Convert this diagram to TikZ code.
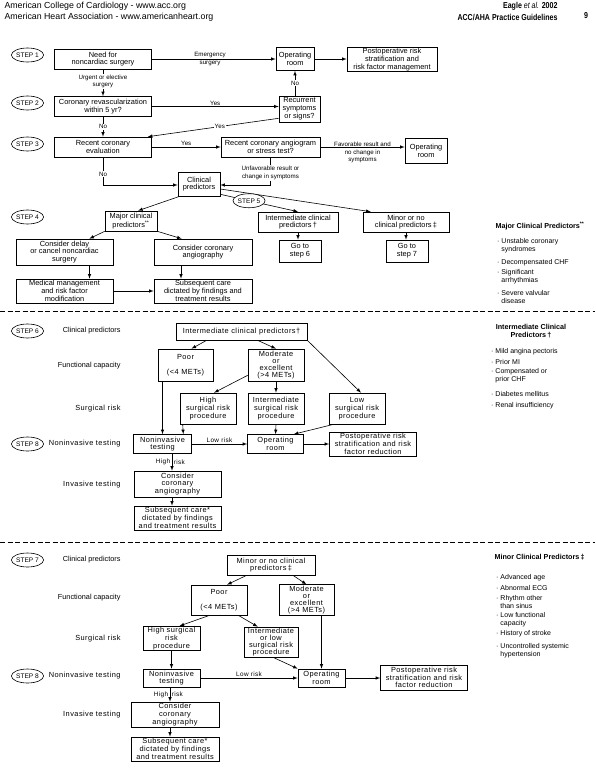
\documentclass[tikz,border=0pt]{standalone}
\usepackage{fontspec}
\setmainfont{Liberation Sans}
\newfontfamily\widefont[LetterSpace=6]{Liberation Sans}
\newfontfamily\narrowfont[FakeStretch=0.82]{Liberation Sans}
\usetikzlibrary{shapes.geometric, calc}

\begin{document}
\begin{tikzpicture}[
    x=1pt, y=-1pt,
    box/.style={rectangle, draw=black, line width=0.6pt, align=center, inner sep=1pt, font=\fontsize{7.4}{7.8}\selectfont},
    wbox/.style={box, font=\widefont\fontsize{7.4}{7.8}\selectfont},
    stepell/.style={ellipse, draw=black, line width=0.6pt, inner sep=0pt, minimum width=31pt, minimum height=14pt, font=\fontsize{6.6}{7}\selectfont},
    lbl/.style={font=\fontsize{6.2}{7.6}\selectfont, align=center, inner sep=1pt},
    wlbl/.style={font=\widefont\fontsize{6.4}{7}\selectfont, inner sep=1.5pt},
    rowlab/.style={anchor=east, font=\fontsize{7.3}{8}\selectfont},
    wrowlab/.style={anchor=east, font=\widefont\fontsize{7.4}{8}\selectfont},
    sidehd/.style={anchor=west, font=\bfseries\fontsize{7.2}{8.2}\selectfont, align=left},
    sideit/.style={anchor=west, font=\fontsize{7}{8}\selectfont, align=left, inner sep=0pt},
    hdtext/.style={font=\fontsize{8.8}{10}\selectfont},
    hdbold/.style={font=\narrowfont\bfseries\fontsize{8.6}{10}\selectfont},
    arr/.style={-latex, line width=0.6pt},
    sepline/.style={line width=0.7pt, dash pattern=on 5pt off 2.5pt}
]
\useasboundingbox (0,0) rectangle (595,768);

\node[hdtext, anchor=west] (hdacc) at (1,6) {American College of Cardiology - www.acc.org};
\node[hdtext, anchor=west] (hdaha) at (1,17) {American Heart Association - www.americanheart.org};
\node[hdbold, anchor=east] (hdeagle) at (561,6) {Eagle \textmd{\textit{et al.}} 2002};
\node[hdbold, anchor=east] (hdguide) at (561,17) {ACC/AHA Practice Guidelines};
\node[hdbold] (hdpage) at (586,16) {9};

\node[stepell] (st1) at (27.5,55)  {STEP 1};
\node[stepell] (st2) at (27.5,103) {STEP 2};
\node[stepell] (st3) at (27.5,144) {STEP 3};
\node[stepell] (st4) at (27.5,217) {STEP 4};
\node[box, minimum width=97, minimum height=20] (need)   at (103,59)    {Need for\\noncardiac surgery};
\node[box, minimum width=38, minimum height=23] (orA)    at (295,59)    {Operating\\room};
\node[box, minimum width=90, minimum height=23] (postA)  at (392,59.5)  {Postoperative risk\\stratification and\\risk factor management};
\node[box, minimum width=97, minimum height=20] (revasc) at (103,106.5) {Coronary revascularization\\within 5 yr?};
\node[box, minimum width=41, minimum height=26] (recur)  at (299.5,109) {Recurrent\\symptoms\\or signs?};
\node[box, minimum width=97, minimum height=20] (eval)   at (103,147)   {Recent coronary\\evaluation};
\node[box, minimum width=99, minimum height=20] (angio)  at (270.5,147) {Recent coronary angiogram\\or stress test?};
\node[box, minimum width=42, minimum height=25] (orB)    at (426,150.5) {Operating\\room};
\node[box, minimum width=42, minimum height=24] (clin)   at (199,184)   {Clinical\\predictors};
\node[box, minimum width=52, minimum height=20] (major)  at (131,221)   {Major clinical\\predictors\textsuperscript{**}};
\node[box, minimum width=80, minimum height=20] (inter)  at (298,222)   {Intermediate clinical\\predictors\,†};
\node[box, minimum width=86, minimum height=20] (minor)  at (406,222)   {Minor or no\\clinical predictors\,‡};
\node[box, minimum width=97, minimum height=26] (delay)  at (64.5,252)  {Consider delay\\or cancel noncardiac\\surgery};
\node[box, minimum width=98, minimum height=26] (coang)  at (203,252)   {Consider coronary\\angiography};
\node[box, minimum width=42, minimum height=22] (go6)    at (300,251)   {Go to\\step 6};
\node[box, minimum width=42, minimum height=22] (go7)    at (407,251)   {Go to\\step 7};
\node[box, minimum width=97, minimum height=24] (medmg)  at (64.5,291)  {Medical management\\and risk factor\\modification};
\node[box, minimum width=98, minimum height=24] (subA)   at (203,291)   {Subsequent care\\dictated by findings and\\treatment results};

\draw[arr] (need.east) -- node[lbl, pos=0.47]{Emergency\\surgery} (orA.west);
\draw[arr] (orA.east) -- (orA.east -| postA.west);
\draw[arr] (need.south) -- node[lbl, fill=white, pos=0.45]{Urgent or elective\\surgery} (revasc.north);
\draw[arr] (revasc.east) -- node[lbl, above]{Yes} (revasc.east -| recur.west);
\draw[arr] (recur.north -| orA.south) -- node[lbl, fill=white]{No} (orA.south);
\draw[arr] ($(recur.south west)+(0,-4)$) -- node[lbl, fill=white, pos=0.45]{Yes} ($(eval.north east)+(-4,0)$);
\draw[arr] (revasc.south) -- node[lbl, fill=white]{No} (eval.north);
\draw[arr] (eval.east) -- node[lbl, above]{Yes} (eval.east -| angio.west);
\draw[arr] (angio.east) -- node[lbl, anchor=north, yshift=6pt]{Favorable result and\\no change in\\symptoms} (angio.east -| orB.west);
\draw[arr] (angio.south) |- node[lbl, fill=white, pos=0.28]{Unfavorable result or\\change in symptoms} ($(clin.east)+(0,1)$);
\draw[arr] (eval.south) |- node[lbl, fill=white, pos=0.3]{No} ($(clin.west)+(0,1)$);
\draw[arr] ($(clin.east)+(0,5)$) -- ($(minor.north west)+(8,0)$);
\draw[arr] ($(clin.south east)+(0,-2)$) -- node[stepell, fill=white, pos=0.37] (st5) {STEP 5} (inter.north);
\draw[arr] ($(clin.south west)+(2,0)$) -- ($(major.north)+(7,0)$);
\draw[arr] (major.south west) -- ($(delay.north east)+(-24,0)$);
\draw[arr] (major.south east) -- ($(coang.north west)+(28,0)$);
\draw[arr] ($(delay.south)+(25,0)$) -- ($(medmg.north)+(25,0)$);
\draw[arr] ($(coang.south)+(-22,0)$) -- ($(subA.north)+(-22,0)$);
\draw[arr] (medmg.east) -- (subA.west);
\draw[arr] (inter.south) -- (inter.south |- go6.north);
\draw[arr] (minor.south) -- (minor.south |- go7.north);

\node[sidehd] (majhd) at (492,226) {Major Clinical Predictors\textsuperscript{**}};
\node[sideit] (maj1) at (497,246) {· Unstable coronary\\\phantom{· }syndromes};
\node[sideit] (maj2) at (497,263) {· Decompensated CHF};
\node[sideit] (maj3) at (497,277) {· Significant\\\phantom{· }arrhythmias};
\node[sideit] (maj4) at (497,297) {· Severe valvular\\\phantom{· }disease};

\draw[sepline] (0,311) -- (595,311);

\node[stepell] (st6)  at (27.5,331) {STEP 6};
\node[stepell] (st8a) at (27.5,444) {STEP 8};
\node[rowlab]  (rl6a) at (124,331)   {Clinical predictors};
\node[rowlab]  (rl6b) at (124,366)   {Functional capacity};
\node[wrowlab] (rl6c) at (124,409)   {Surgical risk};
\node[wrowlab] (rl6d) at (124,444)   {Noninvasive testing};
\node[wrowlab] (rl6e) at (124,484.5) {Invasive testing};
\node[wbox, minimum width=131, minimum height=17] (icp)   at (241.5,331.5) {Intermediate clinical predictors†};
\node[wbox, minimum width=55, minimum height=32]  (poorA) at (185.5,365)   {Poor\\[7pt](<4 METs)};
\node[wbox, minimum width=56, minimum height=32, font=\widefont\fontsize{7.4}{7.2}\selectfont] (modA) at (276,365) {Moderate\\or\\excellent\\(>4 METs)};
\node[wbox, minimum width=56, minimum height=31] (highA)   at (208,408.5)   {High\\surgical risk\\procedure};
\node[wbox, minimum width=56, minimum height=31] (intsA)   at (276,408.5)   {Intermediate\\surgical risk\\procedure};
\node[wbox, minimum width=56, minimum height=31] (lowA)    at (357,408.5)   {Low\\surgical risk\\procedure};
\node[wbox, minimum width=58, minimum height=19] (noninvA) at (162.5,444)   {Noninvasive\\testing};
\node[wbox, minimum width=56, minimum height=19] (orC)     at (275.5,444)   {Operating\\room};
\node[wbox, minimum width=87, minimum height=24] (postB)   at (373,444)     {Postoperative risk\\stratification and risk\\factor reduction};
\node[wbox, minimum width=87, minimum height=26] (consA)   at (177.5,484)   {Consider\\coronary\\angiography};
\node[wbox, minimum width=87, minimum height=24] (subB)    at (177.5,518)   {Subsequent care*\\dictated by findings\\and treatment results};

\draw[arr] ($(icp.south west)+(31,0)$) -- ($(poorA.north)+(6,0)$);
\draw[arr] ($(icp.south)+(16,0)$) -- (modA.north);
\draw[arr] (icp.south east) -- ($(lowA.north)+(4,0)$);
\draw[arr] ($(modA.south west)+(0,-6)$) -- ($(highA.north)+(6,0)$);
\draw[arr] (modA.south) -- (intsA.north);
\draw[arr] (poorA.south -| noninvA.north) -- (noninvA.north);
\draw[arr] ($(highA.south west)+(3,0)$) -- ($(noninvA.north east)+(-8.5,0)$);
\draw[arr] (intsA.south) -- (orC.north);
\draw[arr] ($(lowA.south west)+(5,0)$) -- ($(orC.north east)+(-10,0)$);
\draw[arr] (noninvA.east) -- node[wlbl, above]{Low risk} (orC.west);
\draw[arr] (orC.east) -- (postB.west);
\draw[arr] ($(noninvA.south)+(9.5,0)$) -- node[wlbl, left]{High} node[wlbl, right]{risk} ($(consA.north)+(-5.5,0)$);
\draw[arr] ($(consA.south)+(-5.5,0)$) -- ($(subB.north)+(-5.5,0)$);

\node[font=\bfseries\fontsize{7.2}{8.2}\selectfont, align=center] (inthd) at (531,331.5) {Intermediate Clinical\\Predictors\,†};
\node[sideit] (int1) at (491,352)   {· Mild angina pectoris};
\node[sideit] (int2) at (491,362)   {· Prior MI};
\node[sideit] (int3) at (491,375.5) {· Compensated or\\\phantom{· }prior CHF};
\node[sideit] (int4) at (491,394)   {· Diabetes mellitus};
\node[sideit] (int5) at (491,406)   {· Renal insufficiency};

\draw[sepline] (0,542) -- (595,542);

\node[stepell] (st7)  at (27.5,560) {STEP 7};
\node[stepell] (st8b) at (27.5,676) {STEP 8};
\node[rowlab]  (rl7a) at (124,560) {Clinical predictors};
\node[rowlab]  (rl7b) at (124,598) {Functional capacity};
\node[wrowlab] (rl7c) at (124,639) {Surgical risk};
\node[wrowlab] (rl7d) at (124,676) {Noninvasive testing};
\node[wrowlab] (rl7e) at (124,715) {Invasive testing};
\node[wbox, minimum width=88, minimum height=20] (minC)    at (271,565)   {Minor or no clinical\\predictors\,‡};
\node[wbox, minimum width=56, minimum height=30] (poorB)   at (219,600)   {Poor\\[7pt](<4 METs)};
\node[wbox, minimum width=55, minimum height=30, font=\widefont\fontsize{7.4}{7.2}\selectfont] (modB) at (306.5,600) {Moderate\\or\\excellent\\(>4 METs)};
\node[wbox, minimum width=57, minimum height=23] (highB)   at (171.5,638.5) {High surgical\\risk\\procedure};
\node[wbox, minimum width=54, minimum height=30, font=\widefont\fontsize{7.4}{7}\selectfont] (ilowB) at (271,642) {Intermediate\\or low\\surgical risk\\procedure};
\node[wbox, minimum width=57, minimum height=18] (noninvB) at (171.5,678)   {Noninvasive\\testing};
\node[wbox, minimum width=47, minimum height=18] (orD)     at (321.5,678)   {Operating\\room};
\node[wbox, minimum width=87, minimum height=25] (postC)   at (424,677.5)   {Postoperative risk\\stratification and risk\\factor reduction};
\node[wbox, minimum width=88, minimum height=25] (consB)   at (175,714.5)   {Consider\\coronary\\angiography};
\node[wbox, minimum width=88, minimum height=24] (subC)    at (175,749)     {Subsequent care*\\dictated by findings\\and treatment results};

\draw[arr] ($(minC.south west)+(20,0)$) -- ($(poorB.north)+(8,0)$);
\draw[arr] ($(minC.south)+(22,0)$) -- (modB.north);
\draw[arr] ($(poorB.south west)+(19,0)$) -- ($(highB.north)+(8,0)$);
\draw[arr] ($(poorB.south east)+(-9,0)$) -- ($(ilowB.north west)+(14,0)$);
\draw[arr] (orD.north |- modB.south) -- (orD.north);
\draw[arr] (highB.south) -- (noninvB.north);
\draw[arr] ($(ilowB.south)+(2,0)$) -- (orD.north west);
\draw[arr] (noninvB.east) -- node[wlbl, above]{Low risk} (orD.west);
\draw[arr] (orD.east) -- (orD.east -| postC.west);
\draw[arr] ($(noninvB.south)+(-1.5,0)$) -- node[wlbl, left]{High} node[wlbl, right]{risk} ($(consB.north)+(-5,0)$);
\draw[arr] ($(consB.south)+(-5,0)$) -- ($(subC.north)+(-5,0)$);

\node[sidehd] (minhd) at (491,557) {Minor Clinical Predictors\,‡};
\node[sideit] (min1) at (496,578)   {· Advanced age};
\node[sideit] (min2) at (496,588)   {· Abnormal ECG};
\node[sideit] (min3) at (496,601.5) {· Rhythm other\\\phantom{· }than sinus};
\node[sideit] (min4) at (496,620)   {· Low functional\\\phantom{· }capacity};
\node[sideit] (min5) at (496,634)   {· History of stroke};
\node[sideit] (min6) at (496,650.5) {· Uncontrolled systemic\\\phantom{· }hypertension};
\end{tikzpicture}
\end{document}
